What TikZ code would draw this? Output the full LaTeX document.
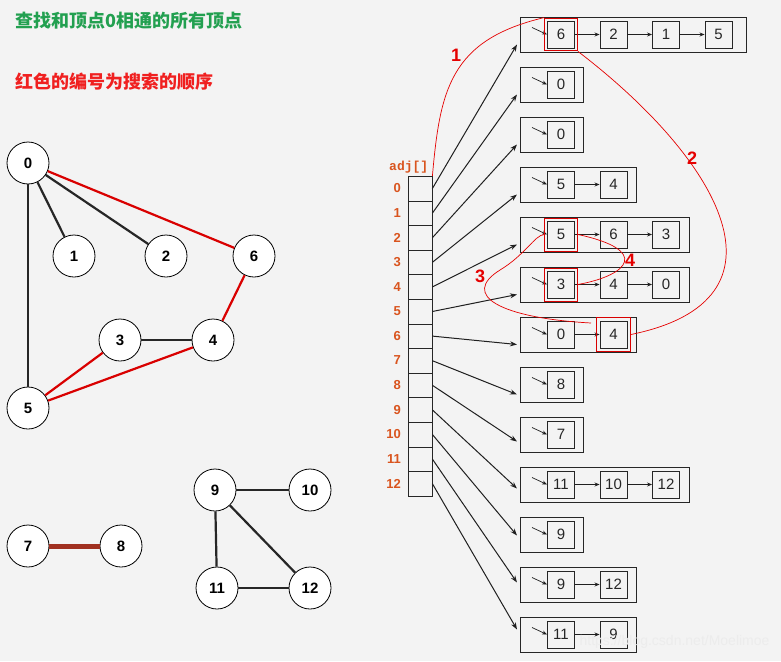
\documentclass[tikz,border=0pt]{standalone}
\usepackage{fontspec}
\setmainfont{Liberation Sans}
\newfontfamily\cjk{Noto Sans CJK SC}
\newfontfamily\mono{Liberation Mono}
\usetikzlibrary{arrows.meta,fit}
\definecolor{bg}{HTML}{F3F3F3}
\definecolor{idx}{HTML}{D9541E}
\definecolor{ttlgreen}{HTML}{22A050}
\definecolor{ttlred}{HTML}{F02020}
\definecolor{brown}{HTML}{A03020}
\begin{document}
\begin{tikzpicture}[x=1pt,y=-1pt,
  gv/.style={circle,draw,thick,fill=white,minimum size=42pt,inner sep=0pt,font=\bfseries\fontsize{15}{15}\selectfont},
  ge/.style={line width=2.2pt,black!85},
  re/.style={line width=2.2pt,red!85!black},
  cell/.style={draw,gray!30!black,minimum width=24pt,minimum height=24.6pt,inner sep=0pt,anchor=north west},
  outer/.style={draw,gray!30!black,line width=0.9pt,minimum height=35pt,inner sep=0pt,anchor=west},
  inner/.style={draw,gray!30!black,line width=0.9pt,minimum size=27pt,inner sep=0pt,font=\fontsize{15}{15}\selectfont},
  ptr/.style={-{Stealth[length=7pt,width=5pt]},line width=1pt,gray!25!black},
  lnk/.style={-{Stealth[length=5pt,width=4pt]},line width=0.7pt,gray!25!black},
  rc/.style={red!90!black,line width=0.7pt},
  rl/.style={text=red!90!black,font=\bfseries\fontsize{18}{18}\selectfont}]
\fill[bg] (0,0) rectangle (781,661);
\useasboundingbox (0,0) rectangle (781,661);
% titles
\node[anchor=west,text=ttlgreen,font=\cjk\bfseries\fontsize{18}{18}\selectfont] (t1) at (12,21) {查找和顶点0相通的所有顶点};
\node[anchor=west,text=ttlred,font=\cjk\bfseries\fontsize{18}{18}\selectfont] (t2) at (12,82) {红色的编号为搜索的顺序};
% graph
\foreach \n/\x/\y in {0/28/163,1/74/256,2/166/256,6/254/256,3/120/340,4/213/340,5/28/408,7/28/546,8/121/546,9/215/490,10/310/490,11/217/588,12/310/588}
  \node[gv] (g\n) at (\x,\y) {\n};
\begin{scope}[on background layer/.try]
\end{scope}
\foreach \a/\b in {0/1,0/2,0/5,3/4,9/10,9/11,9/12,11/12}
  \draw[ge] (g\a) -- (g\b);
\foreach \a/\b in {0/6,6/4,4/5,3/5}
  \draw[re] (g\a) -- (g\b);
\draw[line width=5pt,brown] (g7) -- (g8);
% array
\node[anchor=south west,text=idx,font=\mono\bfseries\fontsize{13}{13}\selectfont,inner sep=0pt] (adj) at (389,173) {adj[]};
\foreach \i in {0,...,12}{
  \node[cell] (A\i) at (408,{176+24.6*\i}) {};
  \node[anchor=east,text=idx,font=\bfseries\fontsize{13}{13}\selectfont,inner sep=0pt] (I\i) at (401,{188.3+24.6*\i}) {\i};
}
% lists
\foreach \i/\lst/\n in {0/{6,2,1,5}/4,1/{0}/1,2/{0}/1,3/{5,4}/2,4/{5,6,3}/3,5/{3,4,0}/3,6/{0,4}/2,7/{8}/1,8/{7}/1,9/{11,10,12}/3,10/{9}/1,11/{9,12}/2,12/{11,9}/2}{
  \pgfmathsetmacro\yc{34.5+50*\i}
  \pgfmathsetmacro\w{63+53*(\n-1)+(\n==4?4:0)}
  \node[outer,minimum width=\w pt] (B\i) at (520,\yc) {};
  \foreach \v [count=\j from 0] in \lst
    \node[inner] (L\i-\j) at ({561+52.5*\j},\yc) {\v};
  \coordinate (s\i) at (532,\yc-7);
  \draw[lnk] (s\i) -- (L\i-0.west);
  \pgfmathsetmacro\last{\n-2}
  \ifnum\n>1
    \foreach \j in {0,...,\last}{
      \pgfmathtruncatemacro\k{\j+1}
      \draw[lnk] (L\i-\j.east) -- (L\i-\k.west);
    }
  \fi
  \pgfmathsetmacro\d{\i<8?10:10-(\i-7)*3}
  \coordinate (e\i) at (517,\yc+\d);
  \draw[ptr] (A\i.east) -- (e\i);
}
% red highlights
\node[draw=red!85!black,line width=0.9pt,fit=(L0-0),inner sep=2.5pt] (R0) {};
\node[draw=red!85!black,line width=0.9pt,fit=(L4-0),inner sep=2.5pt] (R4) {};
\node[draw=red!85!black,line width=0.9pt,fit=(L5-0),inner sep=2.5pt] (R5) {};
\node[draw=red!85!black,line width=0.9pt,fit=(L6-1),inner sep=3pt] (R6) {};
% red traversal curves
\draw[rc] (A0.north east) .. controls (440,90) and (450,40) .. (R0.north west);
\draw[rc] (R0.south east) .. controls (720,160) and (800,300) .. (R6.east);
\draw[rc] (591,323) .. controls (500,318) and (460,295) .. (500,270) .. controls (525,255) and (535,235) .. (R4.west);
\draw[rc] (R4.east) .. controls (650,250) and (630,275) .. (R5.east);
\node[rl] (n1) at (456,55) {1};
\node[rl] (n2) at (692,158) {2};
\node[rl] (n3) at (480,276) {3};
\node[rl] (n4) at (630,260) {4};
% watermark
\node[anchor=east,text=white!85!gray,font=\fontsize{14}{14}\selectfont] (wm) at (773,642) {https://blog.csdn.net/Moelimoe};
\end{tikzpicture}
\end{document}
